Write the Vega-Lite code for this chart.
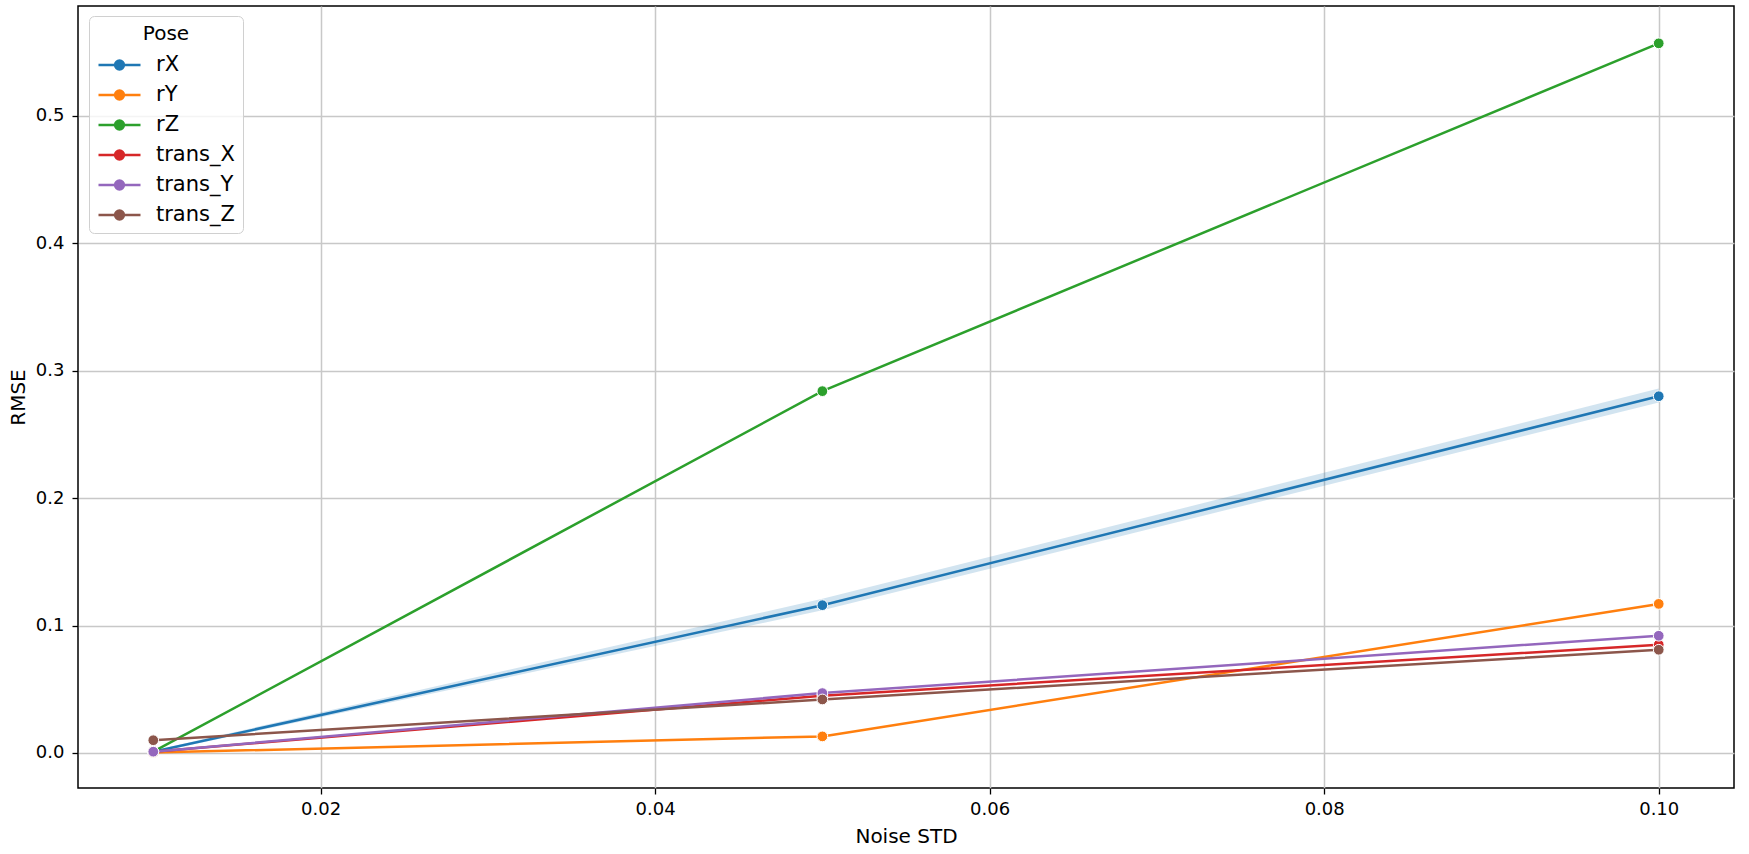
{
  "$schema": "https://vega.github.io/schema/vega-lite/v6.json",
  "autosize": "none",
  "width": 1656,
  "height": 782,
  "padding": {"left": 78, "top": 6, "right": 15, "bottom": 66},
  "background": "white",
  "config": {
    "font": "DejaVu Sans",
    "view": {"stroke": "black", "strokeWidth": 1.5},
    "axis": {
      "labelFont": "DejaVu Sans", "labelFontSize": 18, "labelColor": "black",
      "titleFont": "DejaVu Sans", "titleFontSize": 20, "titleColor": "black", "titleFontWeight": "normal",
      "gridColor": "#c8c8c8", "gridWidth": 1.5, "domain": false,
      "tickColor": "black", "tickSize": 6, "tickWidth": 1.3
    }
  },
  "data": {
    "values": [
      {"noise": 0.01, "pose": "rX", "rmse": 0.001, "lo": 0.0, "hi": 0.002},
      {"noise": 0.05, "pose": "rX", "rmse": 0.116, "lo": 0.112, "hi": 0.121},
      {"noise": 0.10, "pose": "rX", "rmse": 0.280, "lo": 0.275, "hi": 0.286},
      {"noise": 0.01, "pose": "rY", "rmse": 0.0003, "lo": 0.0003, "hi": 0.0003},
      {"noise": 0.05, "pose": "rY", "rmse": 0.013, "lo": 0.013, "hi": 0.013},
      {"noise": 0.10, "pose": "rY", "rmse": 0.117, "lo": 0.117, "hi": 0.117},
      {"noise": 0.01, "pose": "rZ", "rmse": 0.001, "lo": 0.001, "hi": 0.001},
      {"noise": 0.05, "pose": "rZ", "rmse": 0.284, "lo": 0.284, "hi": 0.284},
      {"noise": 0.10, "pose": "rZ", "rmse": 0.557, "lo": 0.557, "hi": 0.557},
      {"noise": 0.01, "pose": "trans_X", "rmse": 0.001, "lo": 0.001, "hi": 0.001},
      {"noise": 0.05, "pose": "trans_X", "rmse": 0.045, "lo": 0.045, "hi": 0.045},
      {"noise": 0.10, "pose": "trans_X", "rmse": 0.085, "lo": 0.085, "hi": 0.085},
      {"noise": 0.01, "pose": "trans_Y", "rmse": 0.001, "lo": 0.001, "hi": 0.001},
      {"noise": 0.05, "pose": "trans_Y", "rmse": 0.047, "lo": 0.047, "hi": 0.047},
      {"noise": 0.10, "pose": "trans_Y", "rmse": 0.092, "lo": 0.092, "hi": 0.092},
      {"noise": 0.01, "pose": "trans_Z", "rmse": 0.010, "lo": 0.010, "hi": 0.010},
      {"noise": 0.05, "pose": "trans_Z", "rmse": 0.042, "lo": 0.042, "hi": 0.042},
      {"noise": 0.10, "pose": "trans_Z", "rmse": 0.081, "lo": 0.081, "hi": 0.081}
    ]
  },
  "encoding": {
    "x": {
      "field": "noise", "type": "quantitative", "title": "Noise STD",
      "scale": {"domain": [0.0055, 0.1045], "nice": false, "zero": false},
      "axis": {"values": [0.02, 0.04, 0.06, 0.08, 0.10], "format": ".2f", "labelPadding": 6, "titlePadding": 8}
    },
    "y": {
      "field": "rmse", "type": "quantitative", "title": "RMSE",
      "scale": {"domain": [-0.0275, 0.5863], "nice": false, "zero": false},
      "axis": {"values": [0, 0.1, 0.2, 0.3, 0.4, 0.5], "format": ".1f", "labelPadding": 8, "titlePadding": 7}
    }
  },
  "layer": [
    {
      "transform": [{"filter": "datum.pose === 'rX'"}],
      "mark": {"type": "area", "color": "#1f77b4", "opacity": 0.2},
      "encoding": {
        "y": {"field": "lo", "type": "quantitative"},
        "y2": {"field": "hi"}
      }
    },
    {
      "mark": {"type": "line", "strokeWidth": 2.5},
      "encoding": {
        "color": {
          "field": "pose", "type": "nominal",
          "scale": {"domain": ["rX", "rY", "rZ", "trans_X", "trans_Y", "trans_Z"],
                    "range": ["#1f77b4", "#ff7f0e", "#2ca02c", "#d62728", "#9467bd", "#8c564b"]},
          "legend": {
            "title": "Pose", "orient": "none", "legendX": 11, "legendY": 10,
            "titleFont": "DejaVu Sans", "titleFontSize": 20, "titleFontWeight": "normal", "titleColor": "black", "titleAnchor": "middle", "titlePadding": 9,
            "labelFont": "DejaVu Sans", "labelFontSize": 21, "labelColor": "black", "labelOffset": 35,
            "symbolType": "M-1,0H3M1.42,0A0.42,0.42 0 1,1 0.58,0A0.42,0.42 0 1,1 1.42,0Z",
            "symbolSize": 441, "symbolStrokeWidth": 2.5,
            "rowPadding": 8, "padding": 8, "cornerRadius": 5,
            "strokeColor": "#d0d0d0", "fillColor": "rgba(255,255,255,0.8)",
            "encode": {"symbols": {"update": {"fill": {"scale": "color", "field": "value"}, "stroke": {"scale": "color", "field": "value"}, "opacity": {"value": 1}}}}
          }
        }
      }
    },
    {
      "mark": {"type": "point", "filled": true, "size": 115, "stroke": "white", "strokeWidth": 1, "opacity": 1},
      "encoding": {
        "color": {
          "field": "pose", "type": "nominal",
          "scale": {"domain": ["rX", "rY", "rZ", "trans_X", "trans_Y", "trans_Z"],
                    "range": ["#1f77b4", "#ff7f0e", "#2ca02c", "#d62728", "#9467bd", "#8c564b"]},
          "legend": null
        }
      }
    }
  ]
}
